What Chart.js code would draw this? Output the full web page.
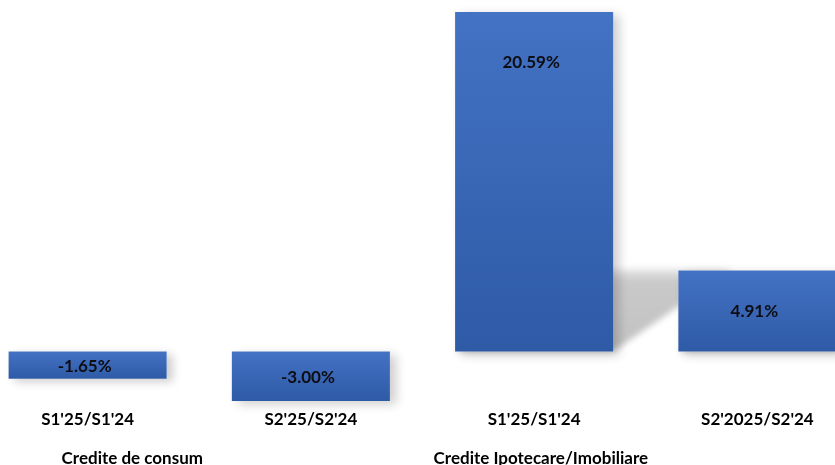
<!DOCTYPE html>
<html>
<head>
<meta charset="utf-8">
<script src="https://cdn.jsdelivr.net/npm/chart.js@4.4.1/dist/chart.umd.min.js"></script>
<style>
  html, body { margin: 0; padding: 0; background: #ffffff; overflow: hidden; }
  #wrap { position: absolute; left: -24px; top: 0; width: 893px; height: 465px; }
</style>
</head>
<body>
<div id="wrap"><canvas id="bar-chart"></canvas></div>
<script>
// categorii si valori (%)
const categories = ["S1'25/S1'24", "S2'25/S2'24", "S1'25/S1'24", "S2'2025/S2'24"];
const values = [-1.65, -3.00, 20.59, 4.91];
const groupLabels = ["Credite de consum", "Credite Ipotecare/Imobiliare"];

const FONT = "Lato, 'Open Sans', sans-serif";

// gradient vertical pe fiecare bara, calculat din scala y
function barGradient(c) {
  const y = c.chart.scales.y;
  if (!y || c.raw == null) return '#3b66b6';
  const p1 = y.getPixelForValue(c.raw), p0 = y.getPixelForValue(0);
  if (!isFinite(p0) || !isFinite(p1) || p0 === p1) return '#3b66b6';
  const g = c.chart.ctx.createLinearGradient(0, Math.min(p0, p1), 0, Math.max(p0, p1));
  g.addColorStop(0, '#4472c4');
  g.addColorStop(1, '#2e5aa6');
  return g;
}

// umbre + etichete
const barStyle = {
  id: 'barStyle',
  beforeDatasetsDraw(chart) {
    const ctx = chart.ctx;
    const meta = chart.getDatasetMeta(0);
    meta.data.forEach(el => {
      const w = el.width;
      const left = el.x - w / 2, right = el.x + w / 2;
      const top = Math.min(el.y, el.base), bot = Math.max(el.y, el.base);
      // umbra moale
      ctx.save();
      ctx.shadowColor = 'rgba(0,0,0,0.2)';
      ctx.shadowBlur = 10;
      ctx.shadowOffsetX = 6;
      ctx.shadowOffsetY = 3;
      ctx.fillStyle = '#ffffff';
      ctx.fillRect(left, top, w, bot - top);
      ctx.restore();
      // umbra in perspectiva pentru barele pozitive
      if (el.y < el.base) {
        const h = el.base - el.y;
        const sh = h * 0.245;
        ctx.save();
        ctx.filter = 'blur(3px)';
        const g = ctx.createLinearGradient(0, el.base, 0, el.base - sh);
        g.addColorStop(0, 'rgba(0,0,0,0.24)');
        g.addColorStop(0.85, 'rgba(0,0,0,0.21)');
        g.addColorStop(1, 'rgba(0,0,0,0.08)');
        ctx.fillStyle = g;
        ctx.beginPath();
        ctx.moveTo(left, el.base);
        ctx.lineTo(right, el.base);
        ctx.lineTo(right + 1.45 * sh, el.base - sh);
        ctx.lineTo(left + 1.45 * sh, el.base - sh);
        ctx.closePath();
        ctx.fill();
        ctx.restore();
      }
    });
  },
  afterDatasetsDraw(chart) {
    const ctx = chart.ctx;
    const meta = chart.getDatasetMeta(0);
    ctx.save();
    ctx.font = 'bold 17px ' + FONT;
    ctx.fillStyle = '#0d0d14';
    ctx.textAlign = 'center';
    ctx.textBaseline = 'middle';
    meta.data.forEach((el, i) => {
      let y;
      if (el.y < el.base) {
        y = el.y + Math.min((el.base - el.y) / 2, 51);
      } else {
        y = (el.y + el.base) / 2 + 1;
      }
      ctx.fillText(values[i].toFixed(2) + '%', el.x - 3, y);
    });
    ctx.restore();
  },
  afterDraw(chart) {
    const ctx = chart.ctx;
    const x = chart.scales.x;
    ctx.save();
    ctx.font = 'bold 17px ' + FONT;
    ctx.fillStyle = '#000000';
    ctx.textAlign = 'center';
    ctx.textBaseline = 'middle';
    ctx.fillText(groupLabels[0], x.getPixelForValue(0.2), 459);
    ctx.fillText(groupLabels[1], x.getPixelForValue(2.03), 459);
    ctx.restore();
  }
};

new Chart(document.getElementById('bar-chart'), {
  type: 'bar',
  data: {
    labels: categories,
    datasets: [{
      data: values,
      backgroundColor: barGradient,
      borderWidth: 0,
      barPercentage: 0.708,
      categoryPercentage: 1.0
    }]
  },
  options: {
    responsive: true,
    maintainAspectRatio: false,
    animation: false,
    layout: { padding: { top: 12, left: 0, right: 0, bottom: 0 } },
    plugins: {
      legend: { display: false },
      title: { display: false },
      tooltip: { enabled: false }
    },
    scales: {
      x: {
        grid: { display: false, drawTicks: false },
        border: { display: false },
        ticks: {
          color: '#000000',
          font: { family: FONT, size: 17, weight: 'bold' },
          padding: 8,
          maxRotation: 0
        },
        afterFit: s => { s.height = 64; }
      },
      y: {
        display: false,
        min: -3.0,
        max: 20.59
      }
    }
  },
  plugins: [barStyle]
});
</script>
</body>
</html>
